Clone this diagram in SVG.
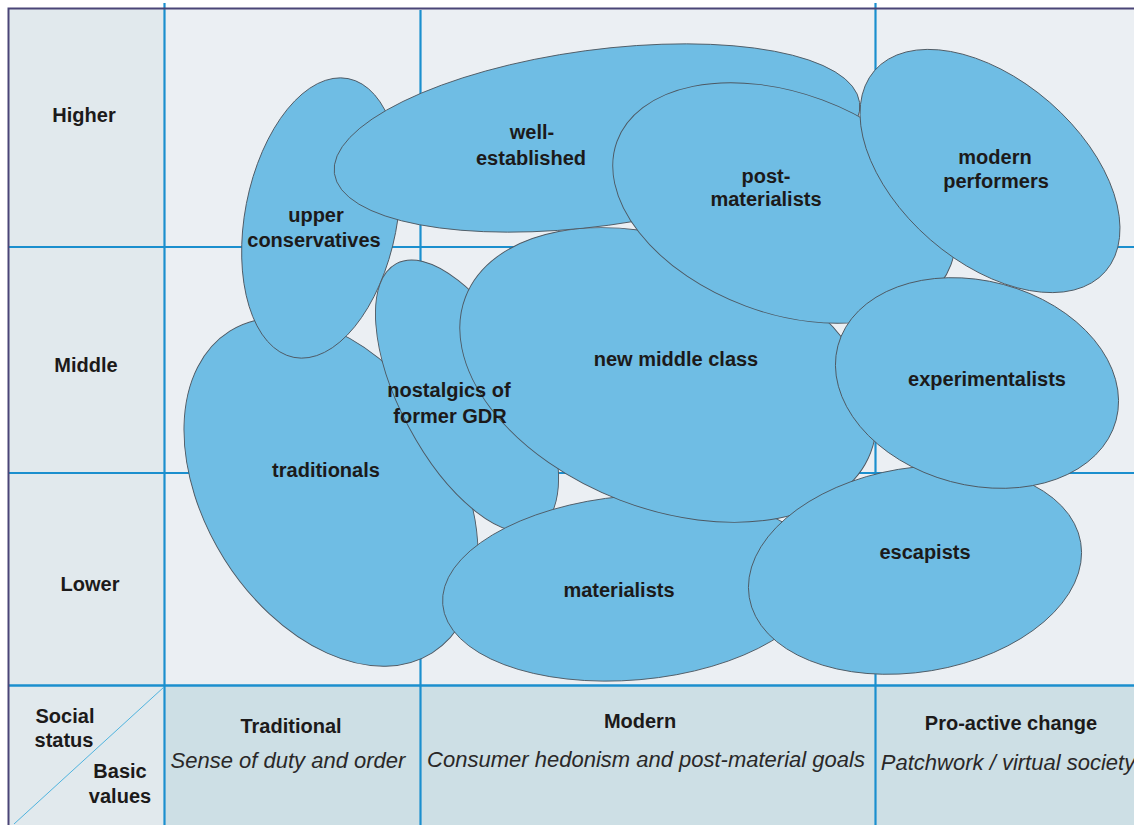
<svg xmlns="http://www.w3.org/2000/svg" width="1134" height="825" viewBox="0 0 1134 825">
<style>
.bg{fill:#ffffff}
.main{fill:#ebeff3}
.side{fill:#e1e9ed}
.foot{fill:#cddfe5}
.grid{stroke:#1b8fce;stroke-width:2.2;fill:none}
.border{stroke:#4a4577;stroke-width:2;fill:none}
.diag{stroke:#4fb3de;stroke-width:1;fill:none}
.blob{fill:#6fbde4;stroke:#4d5862;stroke-width:0.9}
.lbl{font-family:"Liberation Sans",Arial,sans-serif;font-weight:bold;font-size:20px;fill:#1c1a1a;text-anchor:middle}
.sub{font-family:"Liberation Sans",Arial,sans-serif;font-style:italic;font-size:22px;fill:#2a2828;text-anchor:middle}
</style>
<rect class="bg" x="0" y="0" width="1134" height="825"/>
<g id="background">
<rect class="main" x="9" y="9" width="1125" height="677"/>
<rect class="side" x="9" y="9" width="155" height="816"/>
<rect class="foot" x="164" y="686" width="970" height="139"/>
</g>
<g id="grid">
<line class="grid" x1="164.5" y1="3" x2="164.5" y2="825"/>
<line class="grid" x1="420.5" y1="10" x2="420.5" y2="825"/>
<line class="grid" x1="875.5" y1="3" x2="875.5" y2="825"/>
<line class="grid" x1="9" y1="247" x2="1134" y2="247"/>
<line class="grid" x1="9" y1="473" x2="1134" y2="473"/>
<line class="grid" x1="9" y1="685.5" x2="1134" y2="685.5" style="stroke-width:2.6"/>
<line class="diag" x1="164" y1="687" x2="14" y2="824"/>
<path class="border" d="M8.5,825 V8.5 H1134"/>
</g>
<g id="traditionals"><ellipse class="blob" cx="331" cy="492" rx="190" ry="126" transform="rotate(57.8 331 492)"/></g>
<g id="upper-conservatives"><ellipse class="blob" cx="321" cy="218" rx="76" ry="142" transform="rotate(11 321 218)"/></g>
<g id="well-established"><ellipse class="blob" cx="597" cy="138" rx="265" ry="88" transform="rotate(-7.7 597 138)"/></g>
<g id="nostalgics"><ellipse class="blob" cx="467" cy="396" rx="150" ry="66" transform="rotate(61.9 467 396)"/></g>
<g id="materialists"><ellipse class="blob" cx="632" cy="588" rx="190" ry="92" transform="rotate(-5 632 588)"/></g>
<g id="new-middle-class"><ellipse class="blob" cx="668" cy="375" rx="217" ry="134" transform="rotate(21 668 375)"/></g>
<g id="post-materialists"><ellipse class="blob" cx="784" cy="203" rx="178" ry="110" transform="rotate(20.3 784 203)"/></g>
<g id="modern-performers"><ellipse class="blob" cx="990" cy="171" rx="153" ry="91" transform="rotate(41 990 171)"/></g>
<g id="escapists"><ellipse class="blob" cx="915" cy="570" rx="168" ry="102" transform="rotate(-9.4 915 570)"/></g>
<g id="experimentalists"><ellipse class="blob" cx="977" cy="383" rx="144" ry="102" transform="rotate(15 977 383)"/></g>
<g id="labels">
<text class="lbl" x="532" y="139">well-</text>
<text class="lbl" x="531" y="165">established</text>
<text class="lbl" x="316" y="222">upper</text>
<text class="lbl" x="314" y="247">conservatives</text>
<text class="lbl" x="766" y="183">post-</text>
<text class="lbl" x="766" y="206">materialists</text>
<text class="lbl" x="995" y="164">modern</text>
<text class="lbl" x="996" y="188">performers</text>
<text class="lbl" x="676" y="366">new middle class</text>
<text class="lbl" x="449" y="397">nostalgics of</text>
<text class="lbl" x="450" y="423">former GDR</text>
<text class="lbl" x="326" y="477">traditionals</text>
<text class="lbl" x="987" y="386">experimentalists</text>
<text class="lbl" x="925" y="559">escapists</text>
<text class="lbl" x="619" y="597">materialists</text>
</g>
<g id="row-labels">
<text class="lbl" x="84" y="122">Higher</text>
<text class="lbl" x="86" y="372">Middle</text>
<text class="lbl" x="90" y="591">Lower</text>
</g>
<g id="corner">
<text class="lbl" x="65" y="723">Social</text>
<text class="lbl" x="64" y="747">status</text>
<text class="lbl" x="120" y="778">Basic</text>
<text class="lbl" x="120" y="803">values</text>
</g>
<g id="columns">
<text class="lbl" x="291" y="733">Traditional</text>
<text class="sub" x="288" y="768">Sense of duty and order</text>
<text class="lbl" x="640" y="728">Modern</text>
<text class="sub" x="646" y="767">Consumer hedonism and post-material goals</text>
<text class="lbl" x="1011" y="730">Pro-active change</text>
<text class="sub" x="1008" y="770">Patchwork / virtual society</text>
</g>
</svg>
